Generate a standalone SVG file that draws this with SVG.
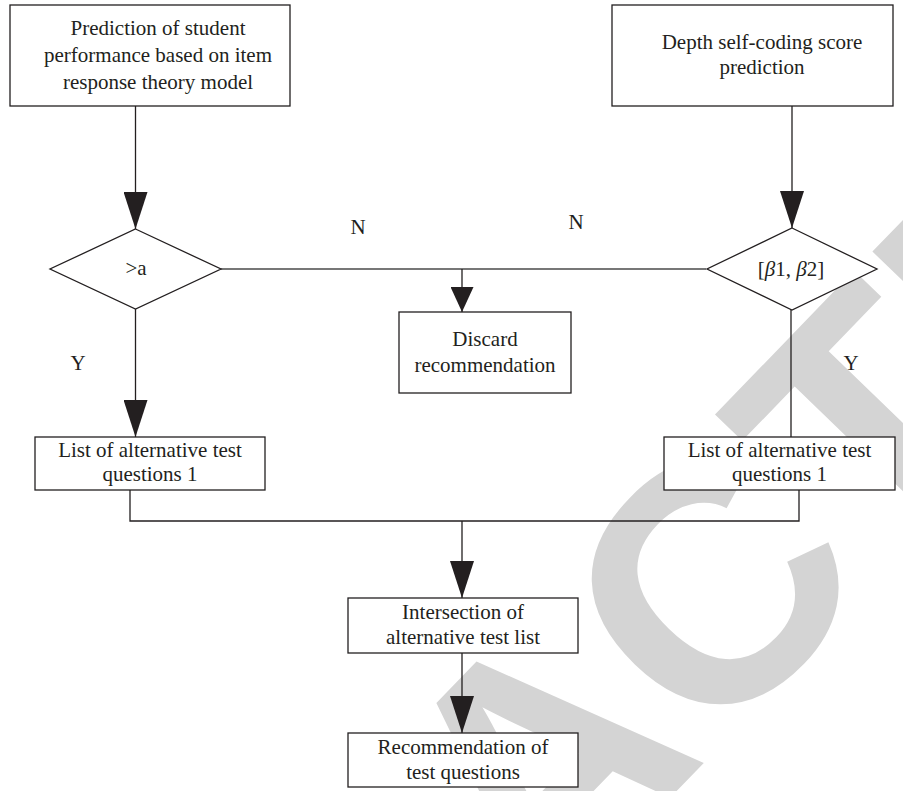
<svg xmlns="http://www.w3.org/2000/svg" width="903" height="791" viewBox="0 0 903 791">
  <defs>
    <marker id="arrowLg" viewBox="0 0 24 37" markerUnits="userSpaceOnUse" markerWidth="24" markerHeight="37" refX="12" refY="37" orient="0">
      <path d="M0,0 L24,0 L12,37 Z" fill="#231f20"/>
    </marker>
    <marker id="arrowSm" viewBox="0 0 23 25" markerUnits="userSpaceOnUse" markerWidth="23" markerHeight="25" refX="11.5" refY="25" orient="0">
      <path d="M0,0 L23,0 L11.5,25 Z" fill="#231f20"/>
    </marker>
    <style>
      .box { fill: #ffffff; stroke: #231f20; stroke-width: 1.3; }
      .lbl { font-family: "Liberation Serif", "Times New Roman", serif; font-size: 21px; fill: #231f20; text-anchor: middle; }
      .edge { fill: none; stroke: #231f20; stroke-width: 1.3; }
      .wm { font-family: "Liberation Sans", Arial, sans-serif; font-weight: bold; font-size: 340px; fill: #d4d4d4; text-anchor: middle; }
    </style>
  </defs>

  <rect width="903" height="791" fill="#ffffff"/>

  <!-- background stamp -->
  <g id="stamp" transform="translate(537,760) rotate(-46)">
    <text class="wm" x="0" y="122">RETRACTED</text>
  </g>

  <!-- connectors -->
  <g id="connectors">
    <line class="edge" x1="135.5" y1="106" x2="135.5" y2="229" marker-end="url(#arrowLg)"/>
    <line class="edge" x1="792" y1="106" x2="792" y2="228" marker-end="url(#arrowLg)"/>
    <line class="edge" x1="135.5" y1="309" x2="135.5" y2="437" marker-end="url(#arrowLg)"/>
    <line class="edge" x1="221" y1="269" x2="706" y2="269" style="stroke:#4a4a4a;stroke-width:1.7"/>
    <line class="edge" x1="462" y1="269" x2="462" y2="312" marker-end="url(#arrowSm)"/>
    <line class="edge" x1="791" y1="310" x2="791" y2="437"/>
    <polyline class="edge" points="130,490 130,521 799,521 799,490"/>
    <line class="edge" x1="462" y1="521" x2="462" y2="598" marker-end="url(#arrowLg)"/>
    <line class="edge" x1="462" y1="653" x2="462" y2="733" marker-end="url(#arrowLg)"/>
    <text class="lbl" x="358" y="234">N</text>
    <text class="lbl" x="576" y="229">N</text>
    <text class="lbl" x="78" y="370">Y</text>
    <text class="lbl" x="851" y="370">Y</text>
  </g>

  <g id="irt-prediction">
    <rect class="box" x="10" y="5" width="280" height="101"/>
    <text class="lbl" x="158" y="35">Prediction of student</text>
    <text class="lbl" x="158" y="62">performance based on item</text>
    <text class="lbl" x="158" y="89">response theory model</text>
  </g>

  <g id="autoencoder-prediction">
    <rect class="box" x="612" y="5" width="281" height="101"/>
    <text class="lbl" x="762" y="49">Depth self-coding score</text>
    <text class="lbl" x="762" y="74">prediction</text>
  </g>

  <g id="threshold-check">
    <polygon class="box" points="135.5,229 221,269 135.5,309 50,269"/>
    <text class="lbl" x="136" y="275">&gt;a</text>
  </g>

  <g id="interval-check">
    <polygon class="box" points="792,228 877,269 792,310 707,269"/>
    <text class="lbl" x="791" y="276">[<tspan font-style="italic">β</tspan>1, <tspan font-style="italic">β</tspan>2]</text>
  </g>

  <g id="discard">
    <rect class="box" x="399" y="312" width="172" height="81"/>
    <text class="lbl" x="485" y="346">Discard</text>
    <text class="lbl" x="485" y="372">recommendation</text>
  </g>

  <g id="candidate-list-left">
    <rect class="box" x="35" y="437" width="230" height="53"/>
    <text class="lbl" x="150" y="457">List of alternative test</text>
    <text class="lbl" x="150" y="481">questions 1</text>
  </g>

  <g id="candidate-list-right">
    <rect class="box" x="664" y="437" width="231" height="53"/>
    <text class="lbl" x="779.5" y="457">List of alternative test</text>
    <text class="lbl" x="779.5" y="481">questions 1</text>
  </g>

  <g id="intersection">
    <rect class="box" x="348" y="598" width="230" height="55"/>
    <text class="lbl" x="463" y="619">Intersection of</text>
    <text class="lbl" x="463" y="644">alternative test list</text>
  </g>

  <g id="recommendation">
    <rect class="box" x="348" y="733" width="230" height="54"/>
    <text class="lbl" x="463" y="754">Recommendation of</text>
    <text class="lbl" x="463" y="779">test questions</text>
  </g>
</svg>
